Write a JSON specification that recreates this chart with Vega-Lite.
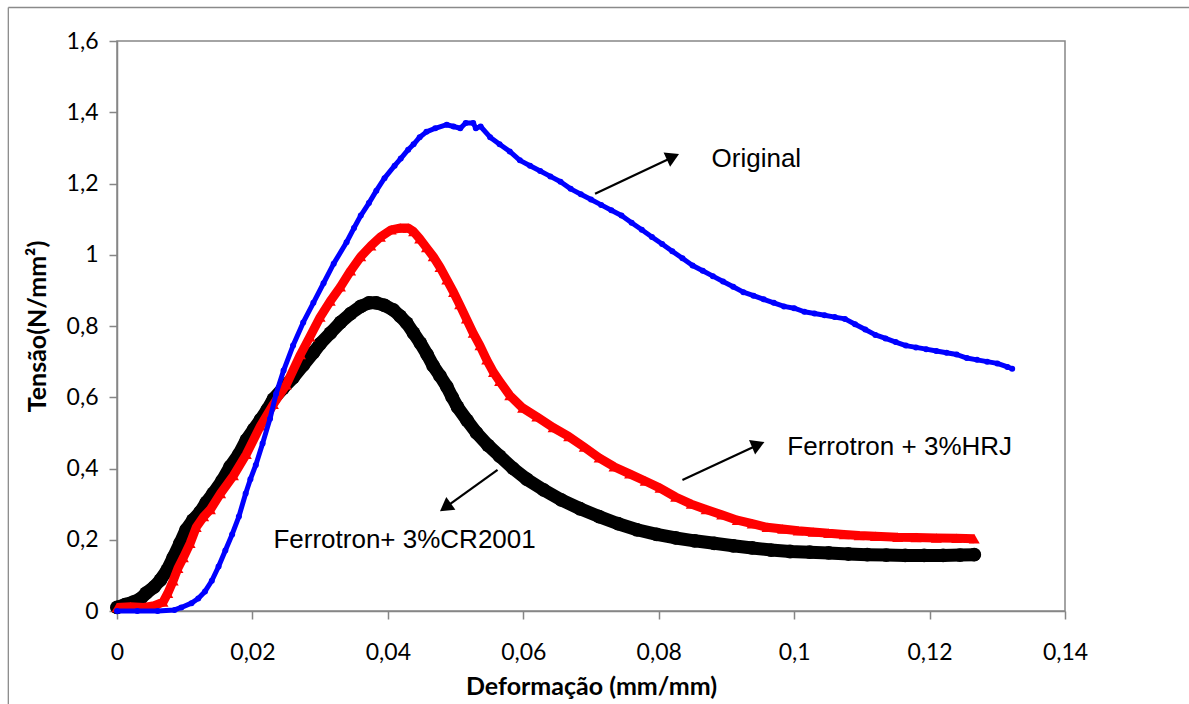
{
  "$schema": "https://vega.github.io/schema/vega-lite/v6.json",
  "width": 948,
  "height": 570,
  "autosize": {"type": "none"},
  "padding": {"left": 117, "top": 41, "right": 124, "bottom": 93},
  "background": "white",
  "config": {
    "view": {"stroke": "#868686", "strokeWidth": 1.5},
    "axis": {
      "domainColor": "#868686", "domainWidth": 1.5,
      "tickColor": "#868686", "tickWidth": 1.5, "tickSize": 8,
      "grid": false,
      "labelFont": "Lato", "labelFontSize": 23, "labelColor": "#000000",
      "titleFont": "Lato", "titleFontSize": 25, "titleFontWeight": "bold", "titleColor": "#000000"
    }
  },
  "datasets": {
    "original": [
      {"x": 0, "y": 0}, {"x": 0.003, "y": 0}, {"x": 0.006, "y": 0}, {"x": 0.0085, "y": 0.003},
      {"x": 0.0095, "y": 0.01}, {"x": 0.011, "y": 0.022}, {"x": 0.012, "y": 0.035}, {"x": 0.013, "y": 0.055},
      {"x": 0.014, "y": 0.085}, {"x": 0.015, "y": 0.125}, {"x": 0.016, "y": 0.17}, {"x": 0.017, "y": 0.215},
      {"x": 0.018, "y": 0.265}, {"x": 0.019, "y": 0.33}, {"x": 0.0197, "y": 0.37}, {"x": 0.0205, "y": 0.41},
      {"x": 0.0215, "y": 0.47}, {"x": 0.0226, "y": 0.54}, {"x": 0.0235, "y": 0.61}, {"x": 0.0246, "y": 0.675},
      {"x": 0.026, "y": 0.745}, {"x": 0.0275, "y": 0.81}, {"x": 0.029, "y": 0.865}, {"x": 0.0305, "y": 0.92},
      {"x": 0.032, "y": 0.975}, {"x": 0.0339, "y": 1.035}, {"x": 0.035, "y": 1.075}, {"x": 0.036, "y": 1.11},
      {"x": 0.0372, "y": 1.145}, {"x": 0.0383, "y": 1.18}, {"x": 0.0395, "y": 1.215}, {"x": 0.041, "y": 1.25},
      {"x": 0.0419, "y": 1.27}, {"x": 0.043, "y": 1.295}, {"x": 0.0438, "y": 1.31}, {"x": 0.0447, "y": 1.33},
      {"x": 0.0457, "y": 1.345}, {"x": 0.047, "y": 1.355}, {"x": 0.0487, "y": 1.365},
      {"x": 0.0497, "y": 1.36}, {"x": 0.0507, "y": 1.355}, {"x": 0.0515, "y": 1.37}, {"x": 0.0526, "y": 1.37}, {"x": 0.053, "y": 1.355},
      {"x": 0.0537, "y": 1.36}, {"x": 0.0551, "y": 1.33}, {"x": 0.0565, "y": 1.31}, {"x": 0.058, "y": 1.29},
      {"x": 0.0595, "y": 1.265}, {"x": 0.061, "y": 1.25}, {"x": 0.0625, "y": 1.235}, {"x": 0.064, "y": 1.22},
      {"x": 0.0655, "y": 1.205}, {"x": 0.067, "y": 1.185}, {"x": 0.0685, "y": 1.17}, {"x": 0.07, "y": 1.155},
      {"x": 0.0715, "y": 1.14}, {"x": 0.073, "y": 1.125}, {"x": 0.0745, "y": 1.11}, {"x": 0.076, "y": 1.09},
      {"x": 0.0775, "y": 1.07}, {"x": 0.079, "y": 1.05}, {"x": 0.0805, "y": 1.03}, {"x": 0.082, "y": 1.01},
      {"x": 0.0835, "y": 0.99}, {"x": 0.085, "y": 0.97}, {"x": 0.0865, "y": 0.955}, {"x": 0.088, "y": 0.94},
      {"x": 0.0895, "y": 0.925}, {"x": 0.091, "y": 0.91}, {"x": 0.0925, "y": 0.895}, {"x": 0.094, "y": 0.885},
      {"x": 0.0955, "y": 0.875}, {"x": 0.097, "y": 0.865}, {"x": 0.0985, "y": 0.855}, {"x": 0.1, "y": 0.85},
      {"x": 0.1015, "y": 0.84}, {"x": 0.103, "y": 0.835}, {"x": 0.1045, "y": 0.83}, {"x": 0.106, "y": 0.825},
      {"x": 0.1075, "y": 0.82}, {"x": 0.109, "y": 0.805}, {"x": 0.1105, "y": 0.79}, {"x": 0.112, "y": 0.775},
      {"x": 0.1135, "y": 0.765}, {"x": 0.115, "y": 0.755}, {"x": 0.1165, "y": 0.745}, {"x": 0.118, "y": 0.74},
      {"x": 0.1195, "y": 0.735}, {"x": 0.121, "y": 0.73}, {"x": 0.1225, "y": 0.725}, {"x": 0.124, "y": 0.72},
      {"x": 0.1255, "y": 0.71}, {"x": 0.127, "y": 0.705}, {"x": 0.1285, "y": 0.7}, {"x": 0.13, "y": 0.695},
      {"x": 0.1315, "y": 0.685}, {"x": 0.1322, "y": 0.68}
    ],
    "hrj": [
      {"x": 0, "y": 0.01}, {"x": 0.002, "y": 0.012}, {"x": 0.004, "y": 0.01}, {"x": 0.0055, "y": 0.015},
      {"x": 0.0068, "y": 0.025}, {"x": 0.0075, "y": 0.05}, {"x": 0.0083, "y": 0.085}, {"x": 0.009, "y": 0.12},
      {"x": 0.0098, "y": 0.15}, {"x": 0.0108, "y": 0.19}, {"x": 0.0117, "y": 0.235}, {"x": 0.0128, "y": 0.265},
      {"x": 0.0138, "y": 0.285}, {"x": 0.0153, "y": 0.33}, {"x": 0.0172, "y": 0.38}, {"x": 0.0191, "y": 0.44},
      {"x": 0.0212, "y": 0.52}, {"x": 0.0231, "y": 0.58}, {"x": 0.025, "y": 0.635}, {"x": 0.0271, "y": 0.72},
      {"x": 0.0285, "y": 0.77}, {"x": 0.03, "y": 0.825}, {"x": 0.0315, "y": 0.87}, {"x": 0.033, "y": 0.91},
      {"x": 0.0345, "y": 0.955}, {"x": 0.036, "y": 0.995}, {"x": 0.0375, "y": 1.025}, {"x": 0.0389, "y": 1.05},
      {"x": 0.0405, "y": 1.07}, {"x": 0.0419, "y": 1.075}, {"x": 0.043, "y": 1.075}, {"x": 0.0438, "y": 1.065},
      {"x": 0.0447, "y": 1.045}, {"x": 0.0457, "y": 1.02}, {"x": 0.0467, "y": 0.995}, {"x": 0.0477, "y": 0.965},
      {"x": 0.0487, "y": 0.93}, {"x": 0.0497, "y": 0.895}, {"x": 0.0506, "y": 0.86}, {"x": 0.0516, "y": 0.82},
      {"x": 0.0526, "y": 0.78}, {"x": 0.0536, "y": 0.745}, {"x": 0.0546, "y": 0.705}, {"x": 0.0556, "y": 0.67},
      {"x": 0.0565, "y": 0.645}, {"x": 0.058, "y": 0.605}, {"x": 0.0599, "y": 0.57}, {"x": 0.062, "y": 0.545},
      {"x": 0.0644, "y": 0.515}, {"x": 0.0667, "y": 0.49}, {"x": 0.069, "y": 0.46}, {"x": 0.0712, "y": 0.43},
      {"x": 0.0734, "y": 0.405}, {"x": 0.0757, "y": 0.385}, {"x": 0.078, "y": 0.365}, {"x": 0.0802, "y": 0.345},
      {"x": 0.0825, "y": 0.32}, {"x": 0.0848, "y": 0.3}, {"x": 0.087, "y": 0.285}, {"x": 0.0893, "y": 0.27},
      {"x": 0.0916, "y": 0.255}, {"x": 0.0938, "y": 0.245}, {"x": 0.096, "y": 0.235}, {"x": 0.0983, "y": 0.23},
      {"x": 0.1006, "y": 0.225}, {"x": 0.1028, "y": 0.222}, {"x": 0.1051, "y": 0.218}, {"x": 0.1074, "y": 0.215},
      {"x": 0.1096, "y": 0.212}, {"x": 0.112, "y": 0.21}, {"x": 0.1153, "y": 0.207}, {"x": 0.118, "y": 0.206},
      {"x": 0.121, "y": 0.205}, {"x": 0.124, "y": 0.204}, {"x": 0.1266, "y": 0.203}
    ],
    "cr2001": [
      {"x": 0, "y": 0.01}, {"x": 0.0012, "y": 0.018}, {"x": 0.0024, "y": 0.025}, {"x": 0.0035, "y": 0.035},
      {"x": 0.0043, "y": 0.05}, {"x": 0.0055, "y": 0.068}, {"x": 0.0064, "y": 0.087}, {"x": 0.0074, "y": 0.115},
      {"x": 0.0083, "y": 0.15}, {"x": 0.0093, "y": 0.19}, {"x": 0.0102, "y": 0.228}, {"x": 0.0112, "y": 0.255},
      {"x": 0.0123, "y": 0.278}, {"x": 0.0132, "y": 0.305}, {"x": 0.0142, "y": 0.33}, {"x": 0.0155, "y": 0.365},
      {"x": 0.0167, "y": 0.405}, {"x": 0.018, "y": 0.44}, {"x": 0.0191, "y": 0.48}, {"x": 0.0202, "y": 0.51},
      {"x": 0.0212, "y": 0.537}, {"x": 0.0222, "y": 0.565}, {"x": 0.0231, "y": 0.595}, {"x": 0.0245, "y": 0.625},
      {"x": 0.026, "y": 0.655}, {"x": 0.0275, "y": 0.69}, {"x": 0.029, "y": 0.725}, {"x": 0.03, "y": 0.75},
      {"x": 0.0315, "y": 0.78}, {"x": 0.033, "y": 0.81}, {"x": 0.0345, "y": 0.835}, {"x": 0.036, "y": 0.855},
      {"x": 0.0372, "y": 0.865}, {"x": 0.0383, "y": 0.865}, {"x": 0.0395, "y": 0.858}, {"x": 0.0408, "y": 0.845},
      {"x": 0.0418, "y": 0.828}, {"x": 0.0428, "y": 0.808}, {"x": 0.0438, "y": 0.78}, {"x": 0.0448, "y": 0.752},
      {"x": 0.0458, "y": 0.72}, {"x": 0.0467, "y": 0.688}, {"x": 0.0477, "y": 0.66}, {"x": 0.0487, "y": 0.63},
      {"x": 0.0495, "y": 0.6}, {"x": 0.0503, "y": 0.572}, {"x": 0.0517, "y": 0.535}, {"x": 0.0531, "y": 0.5},
      {"x": 0.0548, "y": 0.465}, {"x": 0.0565, "y": 0.435}, {"x": 0.0585, "y": 0.4}, {"x": 0.0605, "y": 0.37},
      {"x": 0.063, "y": 0.34}, {"x": 0.0656, "y": 0.312}, {"x": 0.0684, "y": 0.287}, {"x": 0.0712, "y": 0.265},
      {"x": 0.074, "y": 0.245}, {"x": 0.0768, "y": 0.228}, {"x": 0.0797, "y": 0.215}, {"x": 0.0825, "y": 0.205},
      {"x": 0.0853, "y": 0.197}, {"x": 0.0882, "y": 0.19}, {"x": 0.091, "y": 0.183}, {"x": 0.0938, "y": 0.177},
      {"x": 0.0966, "y": 0.171}, {"x": 0.0994, "y": 0.167}, {"x": 0.1023, "y": 0.165}, {"x": 0.1051, "y": 0.163},
      {"x": 0.108, "y": 0.16}, {"x": 0.1108, "y": 0.158}, {"x": 0.1136, "y": 0.157}, {"x": 0.1164, "y": 0.156},
      {"x": 0.1192, "y": 0.156}, {"x": 0.122, "y": 0.156}, {"x": 0.1245, "y": 0.157}, {"x": 0.1266, "y": 0.158}
    ],
    "notes": [
      {"label": "Original", "x": 0.0878, "y": 1.27},
      {"label": "Ferrotron + 3%HRJ", "x": 0.099, "y": 0.461},
      {"label": "Ferrotron+ 3%CR2001", "x": 0.0231, "y": 0.199}
    ],
    "arrows": [
      {"name": "Original", "x": 0.0706, "y": 1.171, "x2": 0.0822, "y2": 1.275, "hx": 0.0821, "hy": 1.275},
      {"name": "HRJ", "x": 0.0835, "y": 0.368, "x2": 0.0947, "y2": 0.467, "hx": 0.0947, "hy": 0.467},
      {"name": "CR2001", "x": 0.0562, "y": 0.396, "x2": 0.0485, "y2": 0.291, "hx": 0.0485, "hy": 0.291}
    ],
    "frame": [
      {"x": -0.01605, "y": 1.694, "x2": 0.2, "y2": 1.694},
      {"x": -0.01605, "y": 1.694, "x2": -0.01605, "y2": -0.3}
    ]
  },
  "encoding": {
    "x": {
      "field": "x", "type": "quantitative",
      "scale": {"domain": [0, 0.14], "nice": false, "zero": false},
      "axis": {
        "values": [0, 0.02, 0.04, 0.06, 0.08, 0.1, 0.12, 0.14],
        "labelExpr": "replace(format(datum.value, '.2~f'), '.', ',')",
        "labelPadding": 22, "labelFlush": false, "labelOverlap": false,
        "title": "Deformação (mm/mm)", "titleY": 75, "titleBaseline": "middle"
      }
    },
    "y": {
      "field": "y", "type": "quantitative",
      "scale": {"domain": [0, 1.6], "nice": false},
      "axis": {
        "values": [0, 0.2, 0.4, 0.6, 0.8, 1, 1.2, 1.4, 1.6],
        "labelExpr": "replace(format(datum.value, '.1~f'), '.', ',')",
        "labelPadding": 11, "labelFlush": false, "labelOverlap": false,
        "title": "Tensão(N/mm²)", "titleX": -80, "titleY": 285, "titleBaseline": "middle"
      }
    }
  },
  "layer": [
    {
      "data": {"name": "cr2001"},
      "mark": {"type": "line", "color": "#000000", "strokeWidth": 13, "strokeJoin": "round", "strokeCap": "round"}
    },
    {
      "data": {"name": "cr2001"},
      "mark": {"type": "point", "shape": "circle", "filled": true, "color": "#000000", "size": 190, "opacity": 1}
    },
    {
      "data": {"name": "hrj"},
      "mark": {"type": "line", "color": "#ff0000", "strokeWidth": 9, "strokeJoin": "round"}
    },
    {
      "data": {"name": "hrj"},
      "mark": {"type": "point", "shape": "triangle-up", "filled": true, "color": "#ff0000", "size": 120, "opacity": 1}
    },
    {
      "data": {"name": "original"},
      "mark": {"type": "line", "color": "#0000ff", "strokeWidth": 5, "strokeJoin": "round"}
    },
    {
      "data": {"name": "original"},
      "mark": {"type": "point", "shape": "circle", "filled": true, "color": "#0000ff", "size": 36, "opacity": 1}
    },
    {
      "data": {"name": "arrows"},
      "mark": {"type": "rule", "color": "#000000", "strokeWidth": 2.2},
      "encoding": {
        "x2": {"field": "x2"},
        "y2": {"field": "y2"}
      }
    },
    {
      "data": {"name": "arrows"},
      "transform": [{"filter": "datum.name === 'Original'"}],
      "mark": {"type": "point", "shape": "triangle-up", "filled": true, "color": "#000000", "size": 240, "opacity": 1, "angle": 65},
      "encoding": {
        "x": {"field": "hx", "type": "quantitative"},
        "y": {"field": "hy", "type": "quantitative"}
      }
    },
    {
      "data": {"name": "arrows"},
      "transform": [{"filter": "datum.name === 'HRJ'"}],
      "mark": {"type": "point", "shape": "triangle-up", "filled": true, "color": "#000000", "size": 240, "opacity": 1, "angle": 67},
      "encoding": {
        "x": {"field": "hx", "type": "quantitative"},
        "y": {"field": "hy", "type": "quantitative"}
      }
    },
    {
      "data": {"name": "arrows"},
      "transform": [{"filter": "datum.name === 'CR2001'"}],
      "mark": {"type": "point", "shape": "triangle-up", "filled": true, "color": "#000000", "size": 240, "opacity": 1, "angle": 234},
      "encoding": {
        "x": {"field": "hx", "type": "quantitative"},
        "y": {"field": "hy", "type": "quantitative"}
      }
    },
    {
      "data": {"name": "notes"},
      "mark": {"type": "text", "font": "Liberation Sans", "fontSize": 26, "color": "#000000", "align": "left", "baseline": "middle"},
      "encoding": {
        "text": {"field": "label"}
      }
    },
    {
      "data": {"name": "frame"},
      "mark": {"type": "rule", "color": "#8a8a8a", "strokeWidth": 1.3},
      "encoding": {
        "x2": {"field": "x2"},
        "y2": {"field": "y2"}
      }
    }
  ]
}
